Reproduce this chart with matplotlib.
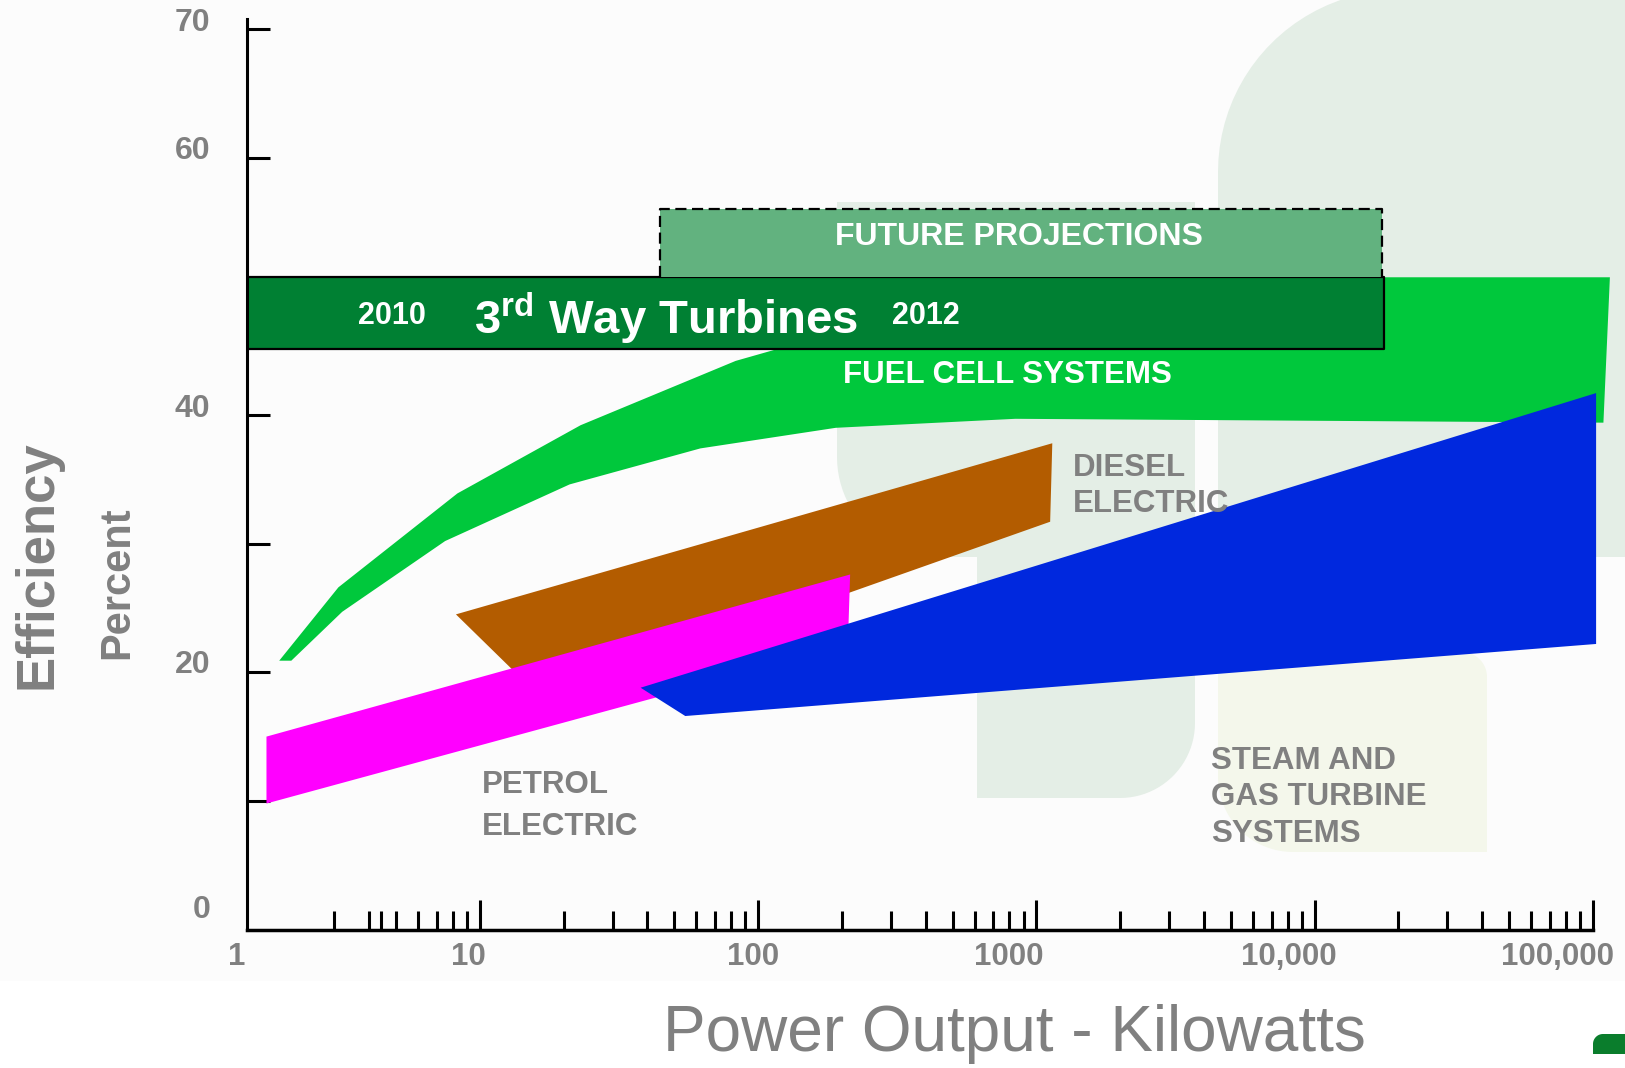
import matplotlib
matplotlib.use("Agg")
import matplotlib.pyplot as plt
import numpy as np
from matplotlib.patches import Polygon, Rectangle

plt.rcParams['font.family'] = ['Liberation Sans', 'DejaVu Sans']
plt.rcParams['mathtext.fontset'] = 'custom'
plt.rcParams['mathtext.rm'] = 'Liberation Sans:bold'
plt.rcParams['mathtext.it'] = 'Liberation Sans:bold'
plt.rcParams['mathtext.bf'] = 'Liberation Sans:bold'

# --- data: power (kW) vs efficiency (%) envelopes ---
fuel_kw = [1.9, 3.1, 8.3, 23, 83, 130, 1000, 115000, 109000, 840, 190, 62, 21, 7.5, 3.2, 2.1]
fuel_eff = [20.9, 26.6, 33.9, 39.2, 44.2, 45.4, 50.7, 50.7, 39.4, 39.7, 39.0, 37.4, 34.6, 30.2, 24.7, 20.9]

diesel_kw = [8.2, 1140, 1120, 17]
diesel_eff = [24.5, 37.8, 31.7, 17.8]

petrol_kw = [1.71, 214, 210, 1.71]
petrol_eff = [15.0, 27.6, 22.1, 9.8]

turbine_kw = [37.8, 102600, 102600, 54.7]
turbine_eff = [18.8, 41.7, 22.2, 16.6]

third_way_kw = [1.45, 17700]
third_way_eff = [45.1, 50.7]
future_kw = [44.5, 17400]
future_eff = [50.7, 56.0]

xmajor = [10, 100, 1000, 10000, 100000]
xminor_first = [3, 4, 4.4, 5, 6, 7, 8, 9]
xlabels = ['1', '10', '100', '1000', '10,000', '100,000']
xlabel_pos = [1.34, 9.1, 95.5, 794, 8040, 74600]
yticks = [10, 20, 30, 40, 50, 60, 70]
ylabels = ['0', '20', '40', '60', '70']
ylabel_pos = [1.5, 20.6, 40.45, 60.5, 70.5]

GRAY = '#808080'
W, H = 1625, 1068

fig = plt.figure(figsize=(W / 100, H / 100), dpi=100)
fig.patch.set_facecolor('white')

# background / watermark layer in pixel coordinates
bg = fig.add_axes([0, 0, 1, 1], zorder=-1)
bg.set_xlim(0, W)
bg.set_ylim(H, 0)
bg.axis('off')
bg.add_patch(Rectangle((0, 0), W, 981, color='#fcfcfc', lw=0))


def rounded(x0, y0, x1, y1, r):
    # r = radii (top-left, top-right, bottom-right, bottom-left), y downwards
    tl, tr, br, bl = r
    pts = []
    def arc(cx, cy, rad, a0, a1):
        if rad <= 0:
            pts.append((cx, cy))
            return
        for a in np.linspace(a0, a1, 24):
            pts.append((cx + rad * np.cos(a), cy + rad * np.sin(a)))
    arc(x0 + tl, y0 + tl, tl, np.pi, 1.5 * np.pi)
    arc(x1 - tr, y0 + tr, tr, 1.5 * np.pi, 2 * np.pi)
    arc(x1 - br, y1 - br, br, 0, 0.5 * np.pi)
    arc(x0 + bl, y1 - bl, bl, 0.5 * np.pi, np.pi)
    return pts


pale = '#e4eee6'
bg.add_patch(Polygon(rounded(1218, -10, 1700, 557, (182, 0, 0, 0)), color=pale, lw=0))
bg.add_patch(Polygon(rounded(837, 202, 1195, 557, (0, 0, 0, 100)), color=pale, lw=0))
bg.add_patch(Polygon(rounded(977, 540, 1195, 798, (0, 0, 75, 0)), color=pale, lw=0))
bg.add_patch(Polygon(rounded(1218, 652, 1487, 852, (0, 25, 0, 75)), color='#f4f7eb', lw=0))
bg.add_patch(Polygon(rounded(1593, 1034, 1660, 1054, (10, 0, 0, 0)), color='#0a7d2c', lw=0))

# main chart
ax = fig.add_axes([247 / W, 1 - 929.6 / H, 1 - 247 / W, 929.6 / H])
ax.patch.set_alpha(0)
ax.set_xscale('log')
ax.set_xlim(10 ** 0.163, 10 ** 5.115)
ax.set_ylim(0, 72.25)

ax.fill(fuel_kw, fuel_eff, color='#00c83c', lw=0, zorder=2)
ax.fill(diesel_kw, diesel_eff, color='#b35c00', lw=0, zorder=3)
ax.fill(petrol_kw, petrol_eff, color='#ff00ff', lw=0, zorder=4)
ax.fill(turbine_kw, turbine_eff, color='#0028de', lw=0, zorder=5)

ax.fill_between(third_way_kw, third_way_eff[0], third_way_eff[1], facecolor='#008033',
                edgecolor='black', lw=1.6, zorder=6)
ax.fill_between(future_kw, future_eff[0], future_eff[1], facecolor='#62b27f',
                edgecolor='none', zorder=6)
ax.plot([future_kw[0], future_kw[0], future_kw[1], future_kw[1]],
        [future_eff[0], future_eff[1], future_eff[1], future_eff[0]],
        color='black', lw=1.6, ls=(0, (5, 2.5)), zorder=7)

# axes styling
for s in ['top', 'right']:
    ax.spines[s].set_visible(False)
ax.spines['left'].set_linewidth(2.2)
ax.spines['bottom'].set_linewidth(2.5)
ax.spines['left'].set_bounds(0, 70.8)
ax.spines['bottom'].set_bounds(10 ** 0.163, 100000)
ax.spines['left'].set_zorder(8)

minor = list(xminor_first)
for k in range(1, 5):
    minor += [m * 10 ** k for m in range(2, 10)]
ax.set_xticks(xmajor)
ax.set_xticks(minor, minor=True)
ax.set_yticks(yticks)
ax.tick_params(axis='x', which='major', direction='in', length=21.6, width=2.2,
               labelbottom=False)
ax.tick_params(axis='x', which='minor', direction='in', length=14, width=2.2,
               labelbottom=False)
ax.tick_params(axis='y', direction='in', length=16.6, width=2.2, labelleft=False)

for lab, pos in zip(xlabels, xlabel_pos):
    ax.annotate(lab, (pos, 0), xycoords=('data', 'axes fraction'), xytext=(0, -19.7),
                textcoords='offset points', ha='center', va='center',
                fontsize=22.5, fontweight='bold', color=GRAY, annotation_clip=False)
for lab, pos in zip(ylabels, ylabel_pos):
    ax.annotate(lab, (0, pos), xycoords=('axes fraction', 'data'), xytext=(-26.4, 0),
                textcoords='offset points', ha='right', va='center',
                fontsize=23, fontweight='bold', color=GRAY, annotation_clip=False)

# labels inside the chart
ax.text(10 ** 2.937, 53.8, 'FUTURE PROJECTIONS', color='white', fontsize=23,
        fontweight='bold', ha='center', va='center', zorder=9)
ax.text(10 ** 0.684, 47.7, '2010', color='white', fontsize=22, fontweight='bold',
        ha='center', va='center', zorder=9)
ax.text(10 ** 1.670, 47.5, r'3$^{\mathrm{rd}}$ Way Turbines', color='white', fontsize=34,
        fontweight='bold', ha='center', va='center', zorder=9)
ax.text(10 ** 2.602, 47.7, '2012', color='white', fontsize=22, fontweight='bold',
        ha='center', va='center', zorder=9)
ax.text(10 ** 2.896, 43.1, 'FUEL CELL SYSTEMS', color='white', fontsize=22.5,
        fontweight='bold', ha='center', va='center', zorder=9)
ax.text(10 ** 3.131, 37.07, 'DIESEL\nELECTRIC', color=GRAY, fontsize=22.5,
        fontweight='bold', ha='left', va='top', linespacing=1.27, zorder=9)
ax.text(10 ** 1.007, 12.4, 'PETROL\nELECTRIC', color=GRAY, fontsize=22.5,
        fontweight='bold', ha='left', va='top', linespacing=1.54, zorder=9)
ax.text(10 ** 3.626, 14.3, 'STEAM AND\nGAS TURBINE\nSYSTEMS', color=GRAY, fontsize=22.5,
        fontweight='bold', ha='left', va='top', linespacing=1.29, zorder=9)

# axis titles
fig.text(37 / W, 1 - 565 / H, 'Efficiency', rotation=90, color=GRAY, fontsize=38,
         fontweight='bold', ha='center', va='center')
fig.text(117 / W, 1 - 583 / H, 'Percent', rotation=90, color=GRAY, fontsize=30,
         fontweight='bold', ha='center', va='center')
fig.text(1014 / W, 1 - 1034 / H, 'Power Output - Kilowatts', color=GRAY, fontsize=46,
         ha='center', va='center')

fig.savefig('out.png', dpi=100)
